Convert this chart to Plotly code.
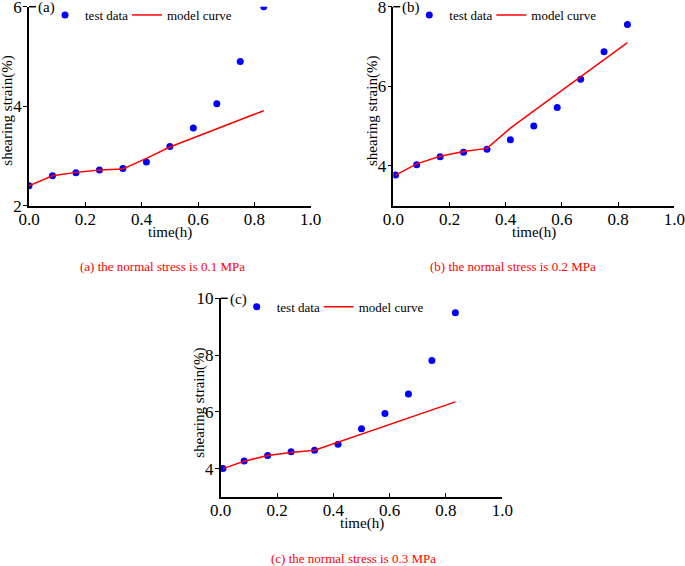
import plotly.graph_objects as go

# time steps (h)
t_a = [0.0, 0.0833, 0.1667, 0.25, 0.3333, 0.4167, 0.5, 0.5833, 0.6667, 0.75, 0.8333]
t_bc = [0.008, 0.0833, 0.1667, 0.25, 0.3333, 0.4167, 0.5, 0.5833, 0.6667, 0.75, 0.8333]

# (a) 0.1 MPa
test_a = [2.40, 2.60, 2.66, 2.72, 2.75, 2.88, 3.19, 3.56, 4.05, 4.90, 6.00]
model_a = [2.40, 2.60, 2.67, 2.72, 2.74, 2.95, 3.18, 3.36, 3.55, 3.73, 3.91]
# (b) 0.2 MPa
test_b = [3.77, 4.03, 4.23, 4.34, 4.42, 4.66, 5.00, 5.47, 6.18, 6.87, 7.55]
model_b = [3.77, 4.05, 4.24, 4.36, 4.44, 4.95, 5.38, 5.81, 6.24, 6.67, 7.10]
# (c) 0.3 MPa
test_c = [4.00, 4.27, 4.46, 4.59, 4.65, 4.86, 5.40, 5.94, 6.63, 7.81, 9.49]
model_c = [4.00, 4.26, 4.46, 4.57, 4.65, 4.93, 5.21, 5.50, 5.78, 6.06, 6.35]

captions = ["(a) the normal stress is 0.1 MPa",
            "(b) the normal stress is 0.2 MPa",
            "(c) the normal stress is 0.3 MPa"]

W, H = 685, 566
FONT = "Liberation Serif"

def px(x):
    return x / W

def py(y):
    return 1 - y / H

# panel boxes in pixels: left, right, top, bottom
boxes = [(29, 310.7, 6.7, 205.7), (393.3, 674.3, 6.7, 205.7), (220.7, 502.3, 298.3, 497)]
caption_x = [162.5, 512.5, 353.5]
yranges = [[2, 6], [3, 8], [3, 10]]
yticks = [[2, 4, 6], [4, 6, 8], [4, 6, 8, 10]]
data = [(t_a, test_a, model_a), (t_bc, test_b, model_b), (t_bc, test_c, model_c)]
labels = ["(a)", "(b)", "(c)"]

fig = go.Figure()
layout = {}
annotations = []
shapes = []

def note(x, y, text, size, color="black", **kw):
    d = dict(x=px(x), y=py(y), xref="paper", yref="paper", text=text,
             showarrow=False, xanchor="center", yanchor="middle",
             font=dict(family=FONT, size=size, color=color))
    d.update(kw)
    annotations.append(d)

def legend_box(x, y):
    return dict(x=px(x), y=py(y), xanchor="left", yanchor="middle",
                orientation="h", bgcolor="rgba(0,0,0,0)", itemwidth=30,
                font=dict(family=FONT, size=13, color="black"))

for i, (box, (t, test, model)) in enumerate(zip(boxes, data)):
    n = "" if i == 0 else str(i + 1)
    leg_pts = "legend" + ("" if i == 0 else str(2 * i + 1))
    leg_line = "legend" + str(2 * i + 2)
    l, r, top, bot = box
    fig.add_trace(go.Scatter(x=t, y=test, mode="markers", name="test data",
                             marker=dict(color="#0000ff", size=7),
                             xaxis="x" + n, yaxis="y" + n, legend=leg_pts))
    fig.add_trace(go.Scatter(x=t, y=model, mode="lines", name="model curve",
                             line=dict(color="#ff0000", width=1.5),
                             xaxis="x" + n, yaxis="y" + n, legend=leg_line))
    layout["xaxis" + n] = dict(domain=[px(l), px(r)], range=[0, 1], anchor="y" + n,
                               tickvals=[0, 0.2, 0.4, 0.6, 0.8, 1.0],
                               ticktext=["0.0", "0.2", "0.4", "0.6", "0.8", "1.0"],
                               ticks="inside", ticklen=4, tickcolor="black",
                               showline=True, linecolor="black", linewidth=1.5,
                               showgrid=False, zeroline=False, automargin=False,
                               ticklabeloverflow="allow", ticklabelstandoff=-3,
                               tickfont=dict(family=FONT, size=17, color="black"))
    layout["yaxis" + n] = dict(domain=[py(bot), py(top)], range=yranges[i], anchor="x" + n,
                               tickvals=yticks[i],
                               ticks="outside", ticklen=4, tickcolor="black",
                               showline=True, linecolor="black", linewidth=1.5,
                               showgrid=False, zeroline=False, automargin=False,
                               ticklabeloverflow="allow", ticklabelstandoff=-2,
                               tickfont=dict(family=FONT, size=17, color="black"))
    top_legend = 15 if i < 2 else top + 8.5
    layout[leg_pts] = legend_box(l + 16, top_legend)
    layout[leg_line] = legend_box(l + 98, top_legend)
    # short stroke at the top of the y axis, before the panel label
    shapes.append(dict(type="line", xref="paper", yref="paper",
                       x0=px(l), x1=px(l + 7), y0=py(top), y1=py(top),
                       line=dict(color="black", width=1.5)))
    note((l + r) / 2, bot + 26.5, "time(h)", 15)
    note(l - 21.5, (top + bot) / 2 + 5, "shearing strain(%)", 15, textangle=-90)
    note(l + 7, top + 1, labels[i], 15, xanchor="left")
    note(caption_x[i], bot + 61, captions[i], 13, color="#ff0000")

fig.update_layout(width=W, height=H, margin=dict(l=0, r=0, t=0, b=0),
                  plot_bgcolor="white", paper_bgcolor="white", showlegend=True,
                  annotations=annotations, shapes=shapes, **layout)

# drop the default page margin so the figure sits at the window corner
fig.write_html("out.html", config={"displayModeBar": False},
               post_script="document.body.style.margin='0';")
